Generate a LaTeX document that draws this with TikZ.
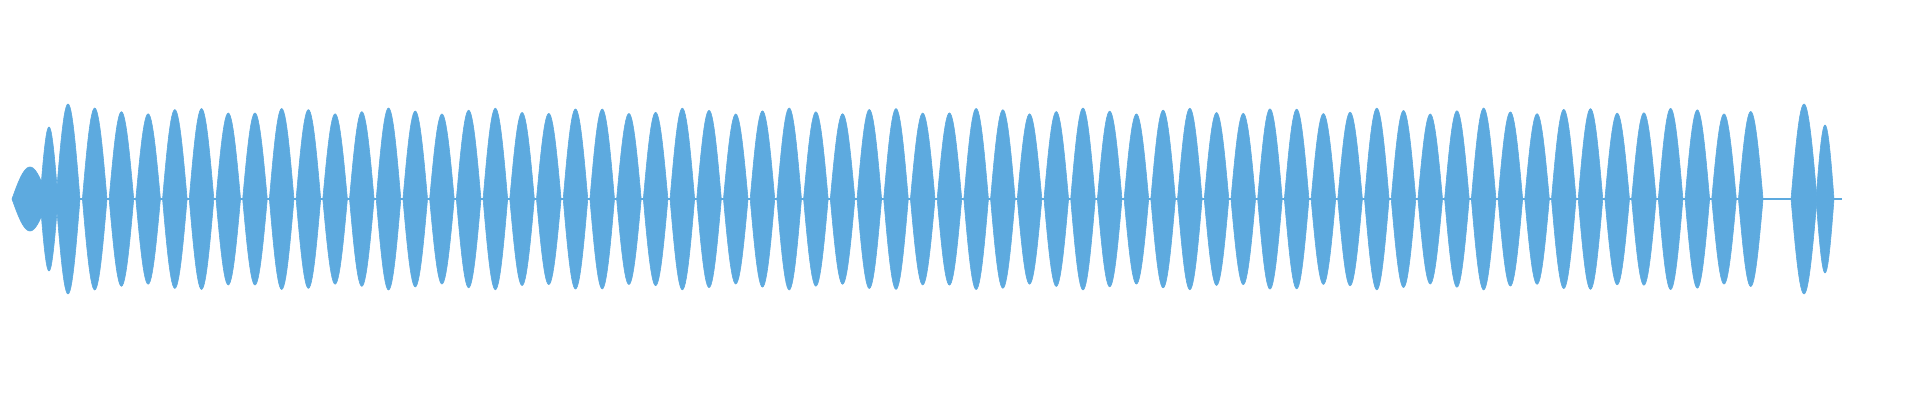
\documentclass[tikz,border=0pt]{standalone}
\definecolor{wave}{HTML}{5DAADF}
\begin{document}
\begin{tikzpicture}[x=0.5pt,y=-0.5pt,lobe/.style={fill=wave,draw=wave,line width=0.3pt}]
\useasboundingbox (0,0) rectangle (1920,400);
\draw[wave,line width=1pt] (12,199) -- (1842,199);
% lobe: center, half width, amplitude
\foreach \c/\w/\a in {30/18/32, 49/9/72, 68/12/95, 1804/13/95, 1825/9/74}{
  \fill[lobe] plot[domain=-1:1,samples=25] ({\c+\w*\x},{199-\a*cos(90*\x)})
     -- plot[domain=1:-1,samples=25] ({\c+\w*\x},{199+\a*cos(90*\x)}) -- cycle;
}
\foreach \i in {1,...,63}{
  \pgfmathsetmacro\c{68+26.71*\i}
  \pgfmathsetmacro\a{88+3*sin(\i*97)}
  \fill[lobe] plot[domain=-1:1,samples=25] ({\c+12.3*\x},{199-\a*cos(90*\x)})
     -- plot[domain=1:-1,samples=25] ({\c+12.3*\x},{199+\a*cos(90*\x)}) -- cycle;
}
\end{tikzpicture}
\end{document}
